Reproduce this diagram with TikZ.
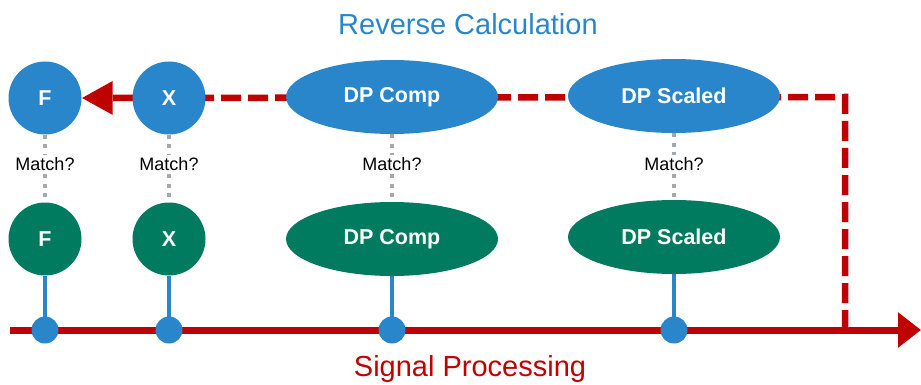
\documentclass[tikz,border=0pt]{standalone}
\usepackage{fontspec}
\setmainfont{Liberation Sans}
\usetikzlibrary{shapes.geometric,arrows.meta,backgrounds}
\definecolor{nodeblue}{HTML}{2986CB}
\definecolor{nodegreen}{HTML}{007B5F}
\definecolor{sigred}{HTML}{C00000}
\definecolor{dotgray}{HTML}{A5A9AC}
\tikzset{
  nodefont/.style={text=white, font=\fontsize{21.5}{25}\selectfont\bfseries},
  calc/.style={circle, fill=nodeblue, minimum size=73pt, inner sep=0pt, nodefont},
  calcell/.style={ellipse, fill=nodeblue, minimum width=212pt, minimum height=74pt, inner sep=0pt, nodefont},
  sig/.style={circle, fill=nodegreen, minimum size=73pt, inner sep=0pt, nodefont},
  sigell/.style={ellipse, fill=nodegreen, minimum width=212pt, minimum height=74pt, inner sep=0pt, nodefont},
  matchlbl/.style={font=\fontsize{18}{20}\selectfont, text=black, inner sep=3pt, anchor=base},
  matchline/.style={draw=dotgray, line width=4pt, dash pattern=on 4pt off 5.5pt},
  stem/.style={draw=nodeblue, line width=4.5pt},
  tap/.style={circle, fill=nodeblue, minimum size=27pt, inner sep=0pt},
  sigaxis/.style={draw=sigred, line width=7pt, -{Triangle[length=23pt,width=34pt]}},
  revpath/.style={draw=sigred, line width=6.5pt, dash pattern=on 20pt off 7pt,
    -{Triangle[length=31pt,width=32pt]}},
  heading/.style={font=\fontsize{29}{34}\selectfont, anchor=base, inner sep=0pt},
}
\begin{document}
\begin{tikzpicture}[x=1pt,y=-1pt]
\useasboundingbox (0,0) rectangle (921,385);

% reverse calculation row
\node[calc]    (tF) at (45,98)  {F};
\node[calc]    (tX) at (169,98) {X};
\node[calcell] (tC) at (392,97) {DP Comp};
\node[calcell] (tS) at (674,96) {DP Scaled};

% signal processing row
\node[sig]    (bF) at (45,239)  {F};
\node[sig]    (bX) at (169,239) {X};
\node[sigell] (bC) at (392,239) {DP Comp};
\node[sigell] (bS) at (674,237) {DP Scaled};

% comparison labels
\node[matchlbl] (mF) at (45,171)  {Match?};
\node[matchlbl] (mX) at (169,171) {Match?};
\node[matchlbl] (mC) at (392,171) {Match?};
\node[matchlbl] (mS) at (674,171) {Match?};

% taps on the signal axis
\node[tap] (pF) at (45,330)  {};
\node[tap] (pX) at (169,330) {};
\node[tap] (pC) at (392,330) {};
\node[tap] (pS) at (674,330) {};

\coordinate (axL)  at (10,330);
\coordinate (axR)  at (921,330);
\coordinate (foot) at (845,330);
\coordinate (bend) at (845,97);

% headings
\node[heading, text=nodeblue] (rev) at (468,35)  {Reverse Calculation};
\node[heading, text=sigred]   (sp)  at (470,376) {Signal Processing};

\begin{pgfonlayer}{background}
  \draw[revpath] (foot) -- (bend) -- (tF.east);
  \draw[sigaxis] (axL) -- (axR);
  \foreach \k in {F,X,C,S} {
    \draw[matchline] (t\k) -- (m\k);
    \draw[matchline] (m\k) -- (b\k);
    \draw[stem] (b\k) -- (p\k.center);
  }
\end{pgfonlayer}
\end{tikzpicture}
\end{document}
